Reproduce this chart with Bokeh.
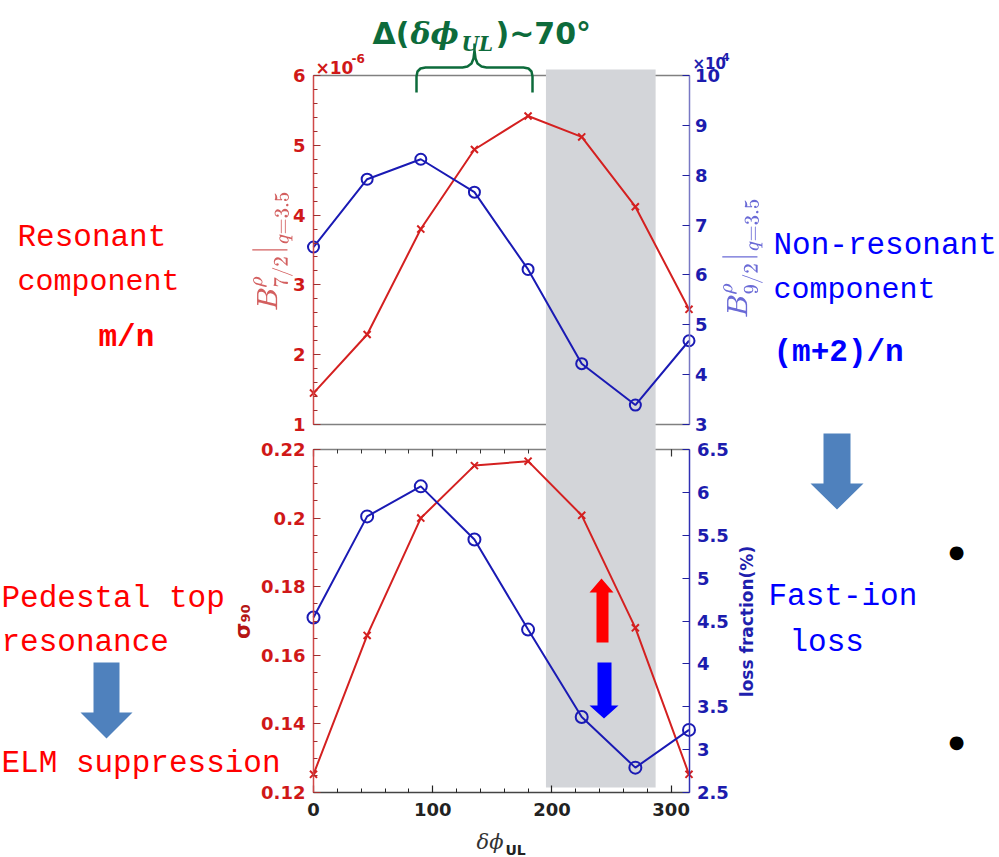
import math
from bokeh.plotting import figure
from bokeh.models import (Range1d, LinearAxis, FixedTicker, BoxAnnotation, Label,
                          PolyAnnotation, CustomJSTickFormatter)
from bokeh.embed import file_html
from bokeh.resources import INLINE

# ---------------- data ----------------
phi_ul = [0, 45, 90, 135, 180, 225, 270, 315]
b72_e6 = [1.45, 2.29, 3.80, 4.94, 5.42, 5.12, 4.12, 2.65]      # x 1e-6
b92_e4 = [6.56, 7.92, 8.32, 7.66, 6.11, 4.22, 3.39, 4.68]      # x 1e-4
sigma90 = [0.1253, 0.1658, 0.2000, 0.2153, 0.2166, 0.2008, 0.1680, 0.1253]
loss_frac = [4.54, 5.72, 6.07, 5.45, 4.40, 3.38, 2.79, 3.23]
shade_range = [195, 287]
x_lim = [0, 315]
top_red_ticks = [1, 2, 3, 4, 5, 6]
top_blue_ticks = [3, 4, 5, 6, 7, 8, 9, 10]
bot_red_ticks = [0.12, 0.14, 0.16, 0.18, 0.2, 0.22]
bot_blue_ticks = [2.5, 3, 3.5, 4, 4.5, 5, 5.5, 6, 6.5]
x_ticks = [0, 100, 200, 300]

# ---------------- style ----------------
W, H = 999, 857
RED = "#d42020"
BLUE = "#1a1ab4"
RED_TXT = "#d01818"
BLUE_TXT = "#1c1cae"
GREY_SHADE = "#d3d5d9"
FRAME_GREY = "#808080"
GREEN = "#0d6b3b"
STEEL = "#4f81bd"
MONO = "Liberation Mono"
TICK_FONT = "18px"


def xr(v_lo, px_lo, v_hi, px_hi):
    s = (px_hi - px_lo) / (v_hi - v_lo)
    return Range1d(v_lo - px_lo / s, v_hi + (W - px_hi) / s)


def yr(v_lo, px_lo, v_hi, px_hi):
    s = (px_lo - px_hi) / (v_hi - v_lo)
    return Range1d(v_lo - (H - px_lo) / s, v_hi + px_hi / s)


p = figure(width=W, height=H, output_backend="svg", toolbar_location=None,
           x_range=Range1d(0, W), y_range=Range1d(H, 0),
           x_axis_location=None, y_axis_location=None, min_border=0)
p.outline_line_color = None
p.background_fill_color = "white"
p.border_fill_color = "white"
p.xgrid.visible = False
p.ygrid.visible = False

p.extra_x_ranges = {"phi": xr(x_lim[0], 313, x_lim[1], 688.5)}
p.extra_y_ranges = {
    "topred": yr(top_red_ticks[0], 424, top_red_ticks[-1], 75),
    "topblue": yr(top_blue_ticks[0], 424, top_blue_ticks[-1], 75),
    "botred": yr(bot_red_ticks[0], 792, bot_red_ticks[-1], 449),
    "botblue": yr(bot_blue_ticks[0], 792, bot_blue_ticks[-1], 449),
}


def style_axis(ax, color, tick_color, line_color, standoff=8):
    ax.axis_line_color = line_color
    ax.axis_line_width = 1.5
    ax.major_tick_line_color = tick_color
    ax.minor_tick_line_color = tick_color
    ax.major_tick_line_width = 1.2
    ax.minor_tick_line_width = 1.0
    ax.major_tick_in = 7
    ax.major_tick_out = 0
    ax.minor_tick_in = 4
    ax.minor_tick_out = 0
    ax.major_label_text_font = "DejaVu Sans"
    ax.major_label_text_font_style = "bold"
    ax.major_label_text_font_size = TICK_FONT
    ax.major_label_text_color = color
    ax.major_label_standoff = standoff


def minor_list(lo, hi, step):
    n = int(round((hi - lo) / step))
    return [lo + step * i for i in range(n + 1)]


def border(yname, loc, side, ticks=(), minor=()):
    ax = LinearAxis(x_range_name="phi", y_range_name=yname, fixed_location=loc,
                    bounds=(x_lim[0], x_lim[1]),
                    ticker=FixedTicker(ticks=list(ticks), minor_ticks=list(minor)),
                    formatter=CustomJSTickFormatter(code="return '';"))
    style_axis(ax, FRAME_GREY, "#333333", FRAME_GREY)
    ax.level = "image"
    p.add_layout(ax, side)
    return ax


# ---- frames / shading ----
border("topred", top_red_ticks[-1], "above")
border("topred", top_red_ticks[0], "below")
border("botred", bot_red_ticks[-1], "above", x_ticks, minor_list(0, 300, 20))
p.add_layout(BoxAnnotation(left=shade_range[0], right=shade_range[1], top=69, bottom=787,
                           x_range_name="phi", fill_color=GREY_SHADE, fill_alpha=1.0,
                           line_color=None, level="underlay"))

# ---- top plot axes ----
ax = LinearAxis(x_range_name="phi", y_range_name="topred", fixed_location=x_lim[0],
                bounds=(top_red_ticks[0], top_red_ticks[-1]),
                ticker=FixedTicker(ticks=top_red_ticks, minor_ticks=minor_list(1, 6, 0.2)))
style_axis(ax, RED_TXT, "#a03030", "#d04848")
p.add_layout(ax, "left")

ax = LinearAxis(x_range_name="phi", y_range_name="topblue", fixed_location=x_lim[1],
                bounds=(top_blue_ticks[0], top_blue_ticks[-1]),
                ticker=FixedTicker(ticks=top_blue_ticks))
style_axis(ax, BLUE_TXT, "#2020a0", "#7878c4", standoff=6)
p.add_layout(ax, "right")

# ---- bottom plot axes ----
ax = LinearAxis(x_range_name="phi", y_range_name="botred", fixed_location=bot_red_ticks[0],
                bounds=(x_lim[0], x_lim[1]),
                ticker=FixedTicker(ticks=x_ticks, minor_ticks=minor_list(0, 300, 20)))
style_axis(ax, "#222222", "#222222", "#444444", standoff=10)
p.add_layout(ax, "below")

ax = LinearAxis(x_range_name="phi", y_range_name="botred", fixed_location=x_lim[0],
                bounds=(bot_red_ticks[0], bot_red_ticks[-1]),
                ticker=FixedTicker(ticks=bot_red_ticks, minor_ticks=minor_list(0.12, 0.22, 0.005)),
                formatter=CustomJSTickFormatter(code="return String(tick);"))
style_axis(ax, RED_TXT, "#a03030", "#d04848")
p.add_layout(ax, "left")

ax = LinearAxis(x_range_name="phi", y_range_name="botblue", fixed_location=x_lim[1],
                bounds=(bot_blue_ticks[0], bot_blue_ticks[-1]),
                ticker=FixedTicker(ticks=bot_blue_ticks),
                formatter=CustomJSTickFormatter(code="return String(tick);"))
style_axis(ax, BLUE_TXT, "#2020a0", "#3030b4")
p.add_layout(ax, "right")

# ---- data lines ----
p.line(phi_ul, b72_e6, x_range_name="phi", y_range_name="topred", line_color=RED, line_width=2)
p.scatter(phi_ul, b72_e6, x_range_name="phi", y_range_name="topred", marker="x", size=10,
          line_color=RED, line_width=2)
p.line(phi_ul, b92_e4, x_range_name="phi", y_range_name="topblue", line_color=BLUE, line_width=2)
p.scatter(phi_ul, b92_e4, x_range_name="phi", y_range_name="topblue", marker="circle", size=11,
          fill_color=None, line_color=BLUE, line_width=2)
p.line(phi_ul, sigma90, x_range_name="phi", y_range_name="botred", line_color=RED, line_width=2)
p.scatter(phi_ul, sigma90, x_range_name="phi", y_range_name="botred", marker="x", size=10,
          line_color=RED, line_width=2)
p.line(phi_ul, loss_frac, x_range_name="phi", y_range_name="botblue", line_color=BLUE,
       line_width=2)
p.scatter(phi_ul, loss_frac, x_range_name="phi", y_range_name="botblue", marker="circle",
          size=12, fill_color=None, line_color=BLUE, line_width=2)


# ---- annotations (page-pixel coordinates on the default ranges) ----
def add_label(x, y, text, size, color, font=MONO, style="normal", align="left",
              baseline="alphabetic", angle=0.0):
    p.add_layout(Label(x=x, y=y, text=text, text_font=font, text_font_size=size,
                       text_color=color, text_font_style=style, text_align=align,
                       text_baseline=baseline, angle=angle))


def add_poly(xs, ys, color, fill=True, lw=1.0):
    p.add_layout(PolyAnnotation(xs=xs, ys=ys, fill_color=color if fill else None,
                                fill_alpha=1.0 if fill else 0.0,
                                line_color=None if fill else color, line_alpha=1.0,
                                line_width=lw, level="overlay"))


def arrow_up(x0, x1, hx0, hx1, tip, base, bottom):
    return ([x0, x0, hx0, (hx0 + hx1) / 2, hx1, x1, x1],
            [bottom, base, base, tip, base, base, bottom])


def arrow_down(x0, x1, hx0, hx1, top_, base, tip):
    return ([x0, x1, x1, hx1, (hx0 + hx1) / 2, hx0, x0],
            [top_, top_, base, base, tip, base, base])


# exponent labels
add_label(315, 67, "\u00d710", "17px", RED_TXT, font="DejaVu Sans", style="bold")
add_label(351, 58, "-6", "12px", RED_TXT, font="DejaVu Sans", style="bold")
add_label(692, 63, "\u00d710", "15px", BLUE_TXT, font="DejaVu Sans", style="bold")
add_label(717, 56, "-4", "11px", BLUE_TXT, font="DejaVu Sans", style="bold")

# y axis labels (rotated)
add_label(272, 250, r"$$B^{\rho}_{7/2}\big|_{q=3.5}$$", "23px", "#d35f5f",
          align="center", baseline="middle", angle=math.pi / 2)
add_label(742, 257, r"$$B^{\rho}_{9/2}\big|_{q=3.5}$$", "23px", "#6a6ad6",
          align="center", baseline="middle", angle=math.pi / 2)
add_label(242, 621, "\u03c3\u2089\u2080", "21px", "#b51515", font="DejaVu Sans",
          style="bold", align="center", baseline="middle", angle=math.pi / 2)
add_label(746, 621, "loss fraction(%)", "17px", "#1f1fae", font="DejaVu Sans",
          style="bold", align="center", baseline="middle", angle=math.pi / 2)
add_label(476, 841, "\u03b4\u03d5", "21px", "#333333", font="DejaVu Serif", style="italic")
add_label(505, 849, "UL", "14px", "#222222", font="DejaVu Sans", style="bold")

# title
add_label(372, 33, "\u0394(", "30px", GREEN, font="DejaVu Sans", style="bold")
add_label(410, 33, "\u03b4\u03d5", "30px", GREEN, font="DejaVu Serif", style="bold italic")
add_label(461, 43, "UL", "20px", GREEN, font="DejaVu Serif", style="bold italic")
add_label(495, 33, ")~70\u00b0", "30px", GREEN, font="DejaVu Sans", style="bold")

# brace
half = [(416, 92), (416, 76), (417, 71), (420, 68), (425, 67), (462, 67), (467, 66),
        (471, 63), (473, 58), (474, 50), (474, 43)]
brace = half + [(2 * 474 - x, y) for (x, y) in reversed(half[:-1])]
path = brace + list(reversed(brace))
add_poly([x for x, _ in path], [y for _, y in path], GREEN, fill=False, lw=2.5)

# side texts
add_label(17, 237, "Resonant", "31px", "#ff0000")
add_label(17, 281, "component", "30px", "#ff0000")
add_label(98, 337, "m/n", "31px", "#ff0000", style="bold")
add_label(773, 245, "Non-resonant", "31px", "#0000ff")
add_label(773, 289, "component", "30px", "#0000ff")
add_label(773, 352, "(m+2)/n", "31px", "#0000ff", style="bold")
add_label(1, 598, "Pedestal top", "31px", "#ff0000")
add_label(1, 642, "resonance", "31px", "#ff0000")
add_label(1, 763, "ELM suppression", "31px", "#ff0000")
add_label(768, 596, "Fast-ion", "31px", "#0000ff")
add_label(789, 642, "loss", "31px", "#0000ff")
add_label(956, 551, "\u25cf", "18px", "#000000", font="DejaVu Sans", align="center",
          baseline="middle")
add_label(956, 741, "\u25cf", "18px", "#000000", font="DejaVu Sans", align="center",
          baseline="middle")

# arrows
xs, ys = arrow_up(596, 608, 589, 613, 578, 592, 642)
add_poly(xs, ys, "#ff0000")
xs, ys = arrow_down(597, 611, 589, 618, 662, 705, 718)
add_poly(xs, ys, "#0000ff")
xs, ys = arrow_down(823, 850, 810, 863, 433, 483, 509)
add_poly(xs, ys, STEEL)
xs, ys = arrow_down(93, 119, 80, 132, 662, 712, 738)
add_poly(xs, ys, STEEL)

open("out.html", "w").write(file_html(p, INLINE))
